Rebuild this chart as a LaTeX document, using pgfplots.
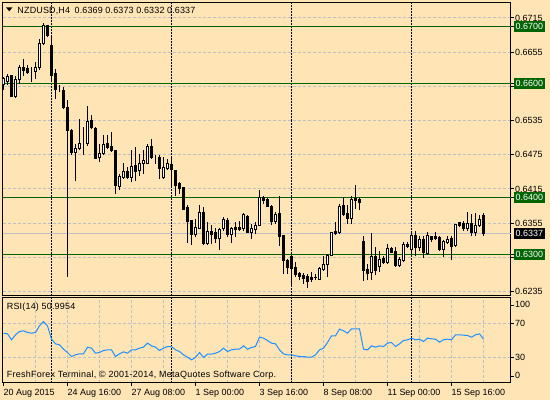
\documentclass[border=0pt]{standalone}
\usepackage{pgfplots}
\pgfplotsset{compat=1.18}
\usepackage{pgfplotstable}
\usepackage{fontspec}
\setmainfont{Liberation Sans}
\newfontfamily\lsA{Liberation Sans}[LetterSpace=1.7]
\newfontfamily\lsR{Liberation Sans}[LetterSpace=2.2]
\newfontfamily\lsB{Liberation Sans}[LetterSpace=3.0]

\definecolor{bg}{RGB}{255,228,181}
\definecolor{gridc}{RGB}{192,192,192}
\definecolor{lvl}{RGB}{0,100,0}
\definecolor{rsic}{RGB}{30,144,255}
\newcommand\fs{\fontsize{9}{10}\selectfont}

% NZDUSD H4 bars, i = bar number from 20 Aug 2015 00:00
\pgfplotstableread{
i o h l c
0 0.65982 0.66111 0.65889 0.66082
1 0.66041 0.66170 0.65965 0.66129
2 0.66140 0.66152 0.65760 0.65772
3 0.65772 0.66140 0.65749 0.66064
4 0.66064 0.66316 0.65994 0.66275
5 0.66287 0.66433 0.66140 0.66228
6 0.66257 0.66316 0.66170 0.66199
7 0.66216 0.66287 0.66023 0.66216
8 0.66216 0.66374 0.66082 0.66275
9 0.66275 0.66784 0.66240 0.66696
10 0.66696 0.67059 0.66667 0.67018
11 0.67018 0.67035 0.66813 0.66842
12 0.66667 0.66813 0.66023 0.66140
13 0.66170 0.66257 0.65731 0.65889
14 0.65866 0.65965 0.65848 0.65866
15 0.65877 0.65947 0.65556 0.65585
16 0.65573 0.65702 0.62614 0.65175
17 0.65175 0.65205 0.64737 0.64795
18 0.64795 0.64942 0.64287 0.64854
19 0.64854 0.65380 0.64825 0.64953
20 0.64942 0.65234 0.64754 0.64942
21 0.64953 0.65597 0.64912 0.65333
22 0.65351 0.65456 0.65205 0.65222
23 0.65216 0.65234 0.64678 0.64690
24 0.64708 0.64942 0.64620 0.64766
25 0.64778 0.65088 0.64754 0.64924
26 0.64942 0.65088 0.64854 0.64883
27 0.64895 0.65146 0.64795 0.64825
28 0.64825 0.64830 0.64064 0.64211
29 0.64199 0.64415 0.64123 0.64374
30 0.64345 0.64602 0.64328 0.64462
31 0.64450 0.64532 0.64328 0.64345
32 0.64357 0.64825 0.64269 0.64544
33 0.64561 0.64883 0.64298 0.64456
34 0.64474 0.64766 0.64386 0.64591
35 0.64602 0.64825 0.64415 0.64649
36 0.64602 0.64930 0.64591 0.64895
37 0.64895 0.65029 0.64678 0.64708
38 0.64719 0.64754 0.64591 0.64719
39 0.64708 0.64737 0.64328 0.64515
40 0.64357 0.64719 0.64328 0.64532
41 0.64515 0.64678 0.64474 0.64602
42 0.64573 0.64708 0.64181 0.64491
43 0.64474 0.64480 0.64035 0.64211
44 0.64240 0.64269 0.64064 0.64152
45 0.64181 0.64190 0.63772 0.63790
46 0.63819 0.63860 0.63205 0.63579
47 0.63596 0.63600 0.63170 0.63345
48 0.63357 0.63626 0.63304 0.63468
49 0.63462 0.63871 0.63439 0.63731
50 0.63743 0.63830 0.63158 0.63187
51 0.63187 0.63567 0.63158 0.63404
52 0.63404 0.63509 0.63187 0.63357
53 0.63392 0.63462 0.63205 0.63287
54 0.63287 0.63462 0.63082 0.63439
55 0.63450 0.63655 0.63421 0.63614
56 0.63596 0.63637 0.63304 0.63345
57 0.63345 0.63480 0.63199 0.63450
58 0.63474 0.63579 0.63304 0.63439
59 0.63480 0.63596 0.63421 0.63433
60 0.63450 0.63731 0.63421 0.63696
61 0.63672 0.63696 0.63380 0.63392
62 0.63392 0.63538 0.63275 0.63450
63 0.63433 0.63579 0.63363 0.63509
64 0.63509 0.64123 0.63497 0.64000
65 0.64000 0.64023 0.63889 0.63947
66 0.63965 0.63988 0.63830 0.63848
67 0.63848 0.63871 0.63509 0.63585
68 0.63579 0.63743 0.63538 0.63702
69 0.63713 0.64018 0.63146 0.63322
70 0.63333 0.63345 0.62661 0.62895
71 0.62895 0.62924 0.62661 0.62778
72 0.62971 0.62982 0.62456 0.62760
73 0.62772 0.62865 0.62602 0.62643
74 0.62667 0.62690 0.62544 0.62608
75 0.62632 0.62678 0.62485 0.62585
76 0.62620 0.62655 0.62409 0.62532
77 0.62602 0.62690 0.62515 0.62561
78 0.62591 0.62655 0.62561 0.62596
79 0.62561 0.62778 0.62544 0.62749
80 0.62737 0.62971 0.62702 0.62819
81 0.62819 0.63012 0.62614 0.62982
82 0.62982 0.62990 0.62965 0.63392
83 0.63404 0.63567 0.63345 0.63374
84 0.63392 0.63889 0.63363 0.63842
85 0.63860 0.64006 0.63672 0.63696
86 0.63725 0.63860 0.63538 0.63637
87 0.63626 0.64018 0.63538 0.63959
88 0.63988 0.64228 0.63801 0.63947
89 0.63965 0.64006 0.63772 0.63918
90 0.63228 0.63316 0.62532 0.62719
91 0.62737 0.62836 0.62544 0.62673
92 0.62684 0.63374 0.62556 0.62965
93 0.62965 0.63129 0.62632 0.62719
94 0.62789 0.63070 0.62690 0.62906
95 0.62924 0.62982 0.62836 0.62854
96 0.62865 0.63187 0.62836 0.63099
97 0.63099 0.63140 0.63023 0.63041
98 0.63053 0.63140 0.62778 0.62807
99 0.62807 0.62953 0.62789 0.62906
100 0.62895 0.63216 0.62865 0.63175
101 0.63175 0.63216 0.63117 0.63140
102 0.63082 0.63409 0.63041 0.63333
103 0.63333 0.63404 0.62965 0.63117
104 0.63129 0.63316 0.63070 0.63263
105 0.63263 0.63333 0.62942 0.63041
106 0.63023 0.63392 0.63000 0.63333
107 0.63316 0.63333 0.63216 0.63257
108 0.63316 0.63392 0.63246 0.63275
109 0.63304 0.63316 0.63070 0.63088
110 0.63082 0.63246 0.62953 0.63234
111 0.63216 0.63316 0.63187 0.63269
112 0.63287 0.63333 0.62895 0.63140
113 0.63158 0.63538 0.63140 0.63526
114 0.63567 0.63575 0.63480 0.63509
115 0.63550 0.63596 0.63421 0.63450
116 0.63450 0.63743 0.63404 0.63538
117 0.63550 0.63713 0.63316 0.63392
118 0.63392 0.63725 0.63322 0.63509
119 0.63509 0.63696 0.63491 0.63608
120 0.6369 0.6373 0.6332 0.6337
}\candles

% RSI(14)
\pgfplotstableread{
i rsi
0 58.04
1 57.26
2 50.20
3 56.08
4 60.00
5 60.79
6 58.83
7 58.04
8 58.83
9 66.67
10 71.77
11 66.67
12 50.98
13 45.49
14 44.32
15 39.22
16 35.30
17 30.59
18 32.55
19 33.73
20 33.73
21 41.57
22 40.40
23 34.51
24 35.30
25 37.65
26 38.43
27 38.43
28 30.59
29 33.73
30 36.08
31 34.51
32 38.43
33 38.43
34 40.40
35 41.57
36 46.28
37 43.14
38 41.57
39 37.65
40 40.40
41 42.36
42 42.36
43 38.43
44 36.47
45 32.55
46 29.81
47 26.67
48 29.41
49 35.30
50 29.41
51 33.34
52 33.34
53 34.51
54 36.47
55 40.40
56 36.47
57 38.43
58 39.22
59 39.22
60 43.14
61 39.22
62 41.18
63 42.36
64 53.34
65 52.16
66 49.41
67 46.28
68 45.49
69 38.43
70 33.73
71 32.55
72 32.55
73 31.37
74 30.59
75 30.59
76 29.81
77 29.81
78 32.55
79 38.43
80 40.40
81 47.06
82 54.91
83 54.91
84 62.75
85 60.79
86 58.04
87 63.14
88 63.14
89 63.14
90 39.22
91 38.43
92 43.14
93 41.57
94 43.14
95 42.36
96 46.28
97 47.06
98 42.36
99 45.49
100 49.41
101 50.20
102 52.16
103 50.20
104 50.98
105 48.24
106 52.16
107 51.38
108 50.98
109 47.45
110 50.20
111 50.98
112 50.20
113 56.08
114 56.08
115 55.69
116 55.30
117 53.34
118 56.08
119 57.26
120 50.9954
}\rsi

\pgfplotsset{
  mt/.style={
    scale only axis, width=508bp,
    xmin=-0.25, xmax=126.75,
    axis line style={black, line width=1bp},
    tick style={black, line width=1bp},
    tick align=outside, major tick length=3bp,
    minor xtick={8,16,...,120}, minor tick length=0pt,
    xminorgrids=true,
    minor grid style={gridc, line width=1bp, dash pattern=on 3bp off 2bp},
    ymajorgrids=true,
    major grid style={gridc, line width=1bp, dash pattern=on 3bp off 2bp},
    ytick pos=right, yticklabel pos=right,
    yticklabel style={font=\fs, text=black, anchor=west, inner sep=0pt, xshift=1.5bp},
    extra x ticks={12,42,72,102}, extra x tick labels={,,,},
    extra x tick style={xmajorgrids=true, major tick length=0pt,
      major grid style={black, line width=1bp, dash pattern=on 2bp off 1bp}},
  }
}

\begin{document}
\begin{tikzpicture}[x=1bp,y=1bp]
\fill[bg] (0,0) rectangle (550,400);

% price window
\begin{axis}[mt,
  at={(2.5bp,104.5bp)}, anchor=south west, height=293bp,
  ymin=0.622807, ymax=0.674211, clip=false,
  xtick=\empty,
  ytick={0.6235,0.6295,0.6355,0.6415,0.6475,0.6535,0.6595,0.6655,0.6715},
  yticklabels={0.6235,,0.6355,0.6415,0.6475,0.6535,,0.6655,0.6715},
  extra y ticks={0.63,0.64,0.66,0.67},
  extra y tick labels={0.6300,0.6400,0.6600,0.6700},
  extra y tick style={major grid style={lvl, solid, line width=1bp},
    yticklabel style={fill=lvl, text=white, inner xsep=2bp, inner ysep=2bp, xshift=-1.5bp}},
]
\addplot[gridc, line width=1bp] coordinates {(-0.25,0.6337) (126.75,0.6337)};
\addplot[draw=none, mark=none,
  error bars/.cd, y dir=plus, y explicit, error mark=none,
  error bar style={draw=black, solid, line width=1bp}]
  table[x=i, y=l, y error expr=\thisrow{h}-\thisrow{l}] {\candles};
\node[anchor=west, fill=black, text=white, font=\fs, inner xsep=2bp, inner ysep=2bp, xshift=3bp]
  at (axis cs:126.75,0.6337) {0.6337};
\end{axis}

% candle bodies
\begin{axis}[
  at={(2.5bp,104.5bp)}, anchor=south west,
  scale only axis, width=508bp, height=293bp,
  xmin=-0.25, xmax=126.75, ymin=0.622807, ymax=0.674211,
  hide axis, ybar stacked, bar width=2bp,
]
\addplot[draw=none, fill=none] table[x=i, y expr={min(\thisrow{o},\thisrow{c})}] {\candles};
\addplot[draw=black, fill=white, line width=1bp] table[x=i, y expr={max(\thisrow{c}-\thisrow{o},0)}] {\candles};
\addplot[draw=black, fill=black, line width=1bp] table[x=i, y expr={max(\thisrow{o}-\thisrow{c},0)}] {\candles};
\end{axis}

% RSI window
\begin{axis}[mt,
  at={(2.5bp,17.5bp)}, anchor=south west, height=85bp,
  ymin=0, ymax=100,
  xtick={0,16,...,112}, xtick pos=bottom,
  xticklabels={20 Aug 2015,24 Aug 16:00,27 Aug 08:00,1 Sep 00:00,3 Sep 16:00,8 Sep 08:00,11 Sep 00:00,15 Sep 16:00},
  xticklabel style={font=\fs, anchor=north west, inner sep=0pt, yshift=-3.5bp},
  ytick={30,70}, yticklabels={30,70},
  extra y ticks={7,91}, extra y tick labels={,},
  extra y tick style={ymajorgrids=false},
]
\addplot[rsic, line width=1bp] table[x=i, y=rsi] {\rsi};
\end{axis}

% 100 and 0 sit a little inside the RSI window, as in the terminal
\node[anchor=west, inner sep=0pt, font=\fs, text=black] at (515,95.7) {100};
\node[anchor=west, inner sep=0pt, font=\fs, text=black] at (515,24.7) {0};

\fill (6,392.7) -- (12.5,392.7) -- (9.25,388.7) -- cycle;
\node[anchor=base west, inner sep=0pt, font=\fs\lsA] at (17.3,386.7)
  {NZDUSD,H4\hspace{2bp} 0.6369 0.6373 0.6332 0.6337};
\node[anchor=base west, inner sep=0pt, font=\fs\lsR] at (6.7,90.5) {RSI(14) 50.9954};
\node[anchor=base west, inner sep=0pt, font=\fs\lsB] at (6.7,22.5)
  {FreshForex Terminal, © 2001-2014, MetaQuotes Software Corp.};

\pgfresetboundingbox
\path[use as bounding box] (0,0) rectangle (550,400);
\end{tikzpicture}
\end{document}
